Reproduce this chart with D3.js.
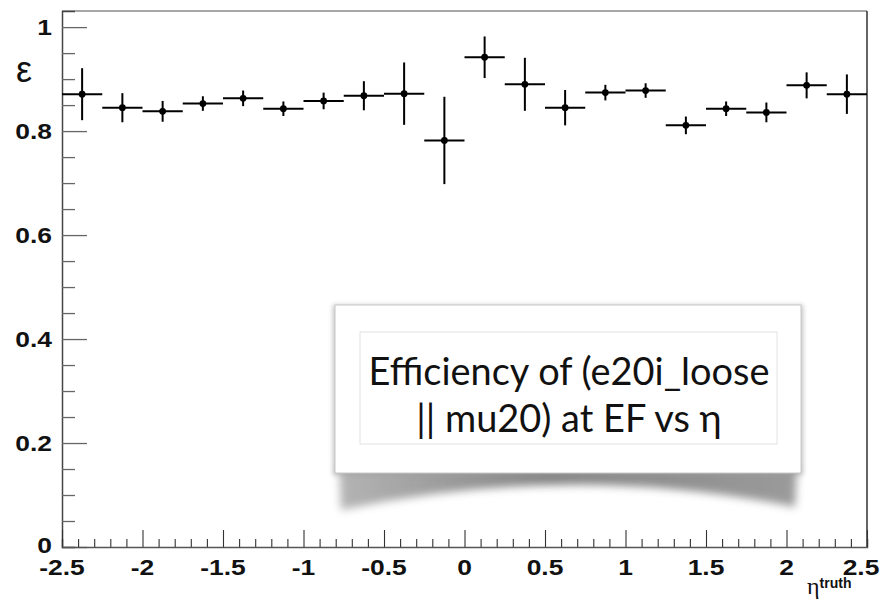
<!DOCTYPE html>
<html>
<head>
<meta charset="utf-8">
<script src="https://cdn.jsdelivr.net/npm/d3@7"></script>
<style>
  html, body { margin: 0; padding: 0; background: #fff; }
</style>
</head>
<body>
<div id="chart"></div>
<script>

// bin centres in eta, half width of each bin
const etaCenters = [-2.375, -2.125, -1.875, -1.625, -1.375, -1.125, -0.875, -0.625, -0.375, -0.125,
                    0.125, 0.375, 0.625, 0.875, 1.125, 1.375, 1.625, 1.875, 2.125, 2.375]
const binHalf = 0.125

// efficiency and its error per bin
const effValues = [0.871, 0.845, 0.838, 0.853, 0.863, 0.843, 0.858, 0.868, 0.872, 0.782,
                   0.942, 0.890, 0.845, 0.874, 0.878, 0.811, 0.843, 0.836, 0.888, 0.871]
const effErrors = [0.050, 0.028, 0.020, 0.014, 0.015, 0.014, 0.016, 0.028, 0.060, 0.084,
                   0.040, 0.051, 0.034, 0.015, 0.014, 0.017, 0.014, 0.019, 0.025, 0.038]

const yTickLabels = [0, 0.2, 0.4, 0.6, 0.8, 1]
const xTickLabels = [-2.5, -2, -1.5, -1, -0.5, 0, 0.5, 1, 1.5, 2, 2.5]

const titleLines = ["Efficiency of (e20i_loose", "|| mu20) at EF vs \u03b7"]

const width = 886, height = 602
const margin = { left: 62, right: 19, top: 11, bottom: 55 }
const sans = "'Liberation Sans', Arial, sans-serif"

const svg = d3.select("#chart").append("svg")
    .attr("width", width)
    .attr("height", height)
    .attr("viewBox", `0 0 ${width} ${height}`)
    .style("font-family", sans)

const x = d3.scaleLinear().domain([-2.5, 2.5]).range([margin.left, width - margin.right])
const y = d3.scaleLinear().domain([0, 1.031]).range([height - margin.bottom, margin.top])

const x0 = x.range()[0], x1 = x.range()[1]
const yBottom = y.range()[0], yTop = y.range()[1]

// frame
svg.append("line").attr("x1", x0).attr("x2", x1).attr("y1", yTop).attr("y2", yTop)
    .attr("stroke", "#8a8a8a").attr("stroke-width", 1.5)
svg.append("line").attr("x1", x1).attr("x2", x1).attr("y1", yTop).attr("y2", yBottom)
    .attr("stroke", "#111").attr("stroke-width", 1.3)

// y axis: ticks pointing inwards
const yAxis = d3.axisRight(y)
    .tickValues(d3.range(0, 1.0001, 0.05))
    .tickSize(13)
    .tickFormat("")
const yg = svg.append("g").attr("transform", `translate(${x0},0)`).call(yAxis)
yg.select(".domain").attr("stroke", "#444").attr("stroke-width", 1.5)
yg.selectAll(".tick line")
    .attr("stroke", "#666").attr("stroke-width", 1.3)
    .attr("x2", d => (Math.round(d * 100) % 20 === 0) ? 25 : 13)

// x axis: ticks pointing up
const xAxis = d3.axisTop(x)
    .tickValues(d3.range(-2.5, 2.5001, 0.1))
    .tickSize(8)
    .tickFormat("")
const xg = svg.append("g").attr("transform", `translate(0,${yBottom})`).call(xAxis)
xg.select(".domain").attr("stroke", "#555").attr("stroke-width", 1.5)
xg.selectAll(".tick line")
    .attr("stroke", "#333").attr("stroke-width", 1.1)
    .attr("y2", d => (Math.abs(Math.round(d * 10)) % 5 === 0) ? -17 : -8)

// tick labels (ROOT style, bold, slightly wide)
svg.append("g").selectAll("text").data(yTickLabels).enter().append("text")
    .attr("transform", d => `translate(52,${y(d) + (d === 0 ? 6 : 8)}) scale(1.2,1)`)
    .attr("text-anchor", "end")
    .attr("font-weight", "bold")
    .attr("font-size", 22)
    .attr("fill", "#111")
    .text(d => d)

svg.append("g").selectAll("text").data(xTickLabels).enter().append("text")
    .attr("transform", d => `translate(${x(d) + (d === 2.5 ? -6 : 0)},575) scale(1.2,1)`)
    .attr("text-anchor", "middle")
    .attr("font-weight", "bold")
    .attr("font-size", 22)
    .attr("fill", "#111")
    .text(d => d)

// axis titles
svg.append("text")
    .attr("x", 24).attr("y", 82)
    .attr("text-anchor", "middle")
    .attr("font-size", 36)
    .attr("fill", "#111")
    .text("\u03b5")

const xTitle = svg.append("text")
    .attr("x", 807).attr("y", 594)
    .attr("fill", "#111")
xTitle.append("tspan")
    .style("font-family", "'Liberation Serif', 'DejaVu Serif', serif")
    .attr("font-size", 24)
    .text("\u03b7")
xTitle.append("tspan")
    .attr("dy", -6)
    .attr("font-weight", "bold")
    .attr("font-size", 14)
    .text("truth")

// data points with error bars
const pts = svg.append("g").selectAll("g").data(etaCenters).enter().append("g")

pts.append("line")
    .attr("x1", d => x(d - binHalf)).attr("x2", d => x(d + binHalf))
    .attr("y1", (d, i) => y(effValues[i])).attr("y2", (d, i) => y(effValues[i]))
    .attr("stroke", "#000").attr("stroke-width", 2)

pts.append("line")
    .attr("x1", d => x(d)).attr("x2", d => x(d))
    .attr("y1", (d, i) => y(effValues[i] + effErrors[i]))
    .attr("y2", (d, i) => y(effValues[i] - effErrors[i]))
    .attr("stroke", "#000").attr("stroke-width", 2)

pts.append("circle")
    .attr("cx", d => x(d))
    .attr("cy", (d, i) => y(effValues[i]))
    .attr("r", 3.4)
    .attr("fill", "#000")

// title panel with curled shadow
const defs = svg.append("defs")
defs.append("filter").attr("id", "blur").attr("x", "-20%").attr("y", "-50%").attr("width", "140%").attr("height", "200%")
    .append("feGaussianBlur").attr("stdDeviation", 4)
defs.append("filter").attr("id", "soft").attr("x", "-10%").attr("y", "-10%").attr("width", "120%").attr("height", "120%")
    .append("feGaussianBlur").attr("stdDeviation", 2.5)

const grad = defs.append("linearGradient").attr("id", "shade")
grad.append("stop").attr("offset", "0%").attr("stop-color", "#a8a8a8")
grad.append("stop").attr("offset", "45%").attr("stop-color", "#707070")
grad.append("stop").attr("offset", "100%").attr("stop-color", "#8a8a8a")

const px0 = 335, px1 = 801, py0 = 305, py1 = 473

svg.append("path")
    .attr("d", `M${px0 + 4},${py1 - 6} L${px1 - 4},${py1 - 6} L${px1 - 6},${py1 + 34} Q${(px0 + px1) / 2},${py1 - 12} ${px0 + 6},${py1 + 37} Z`)
    .attr("fill", "url(#shade)")
    .attr("filter", "url(#blur)")
    .attr("opacity", 0.85)

svg.append("rect")
    .attr("x", px0 - 2).attr("y", py0).attr("width", px1 - px0 + 4).attr("height", py1 - py0 + 2)
    .attr("fill", "#999").attr("filter", "url(#soft)").attr("opacity", 0.6)

svg.append("rect")
    .attr("x", px0).attr("y", py0).attr("width", px1 - px0).attr("height", py1 - py0)
    .attr("fill", "#fff").attr("stroke", "#c8c8c8").attr("stroke-width", 1)

svg.append("rect")
    .attr("x", 360).attr("y", 332).attr("width", 417).attr("height", 112)
    .attr("fill", "#fff").attr("stroke", "#e2e2e2").attr("stroke-width", 1)

const titles = svg.append("g").selectAll("text").data(titleLines).enter().append("text")
    .attr("x", 569)
    .attr("y", (d, i) => 385 + i * 47)
    .attr("text-anchor", "middle")
    .style("font-family", "'Gill Sans', Lato, 'Open Sans', sans-serif")
    .attr("font-size", 31)
    .attr("fill", "#111")
    .text(d => d)

// fit the first line to the width it has in the slide (~401px)
const w0 = titles.nodes()[0].getComputedTextLength()
if (w0 > 0) titles.attr("font-size", 31 * 401 / w0)

</script>
</body>
</html>
